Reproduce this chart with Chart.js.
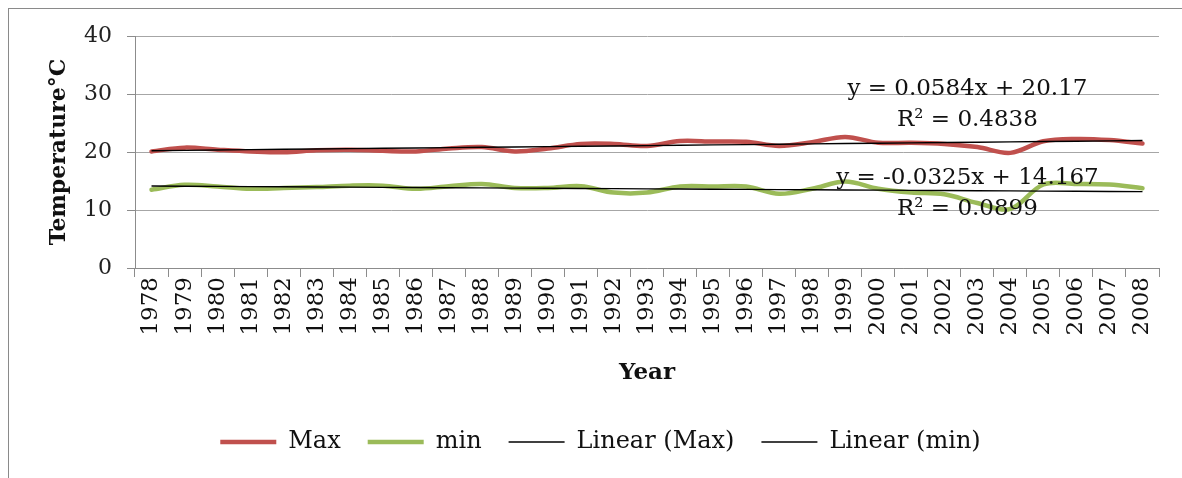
<!DOCTYPE html>
<html>
<head>
<meta charset="utf-8">
<script src="https://cdn.jsdelivr.net/npm/chart.js@4/dist/chart.umd.min.js"></script>
<style>
  html, body { margin: 0; padding: 0; background: #ffffff; }
  #wrap { width: 1182px; height: 478px; position: relative; }
</style>
</head>
<body>
<div id="wrap"><canvas id="chart" width="1182" height="478"></canvas></div>
<script>
// Yearly mean maximum and minimum temperature (°C), 1978–2008
const years = ['1978','1979','1980','1981','1982','1983','1984','1985','1986','1987',
               '1988','1989','1990','1991','1992','1993','1994','1995','1996','1997',
               '1998','1999','2000','2001','2002','2003','2004','2005','2006','2007','2008'];

const maxTemp = [20.1, 20.75, 20.4, 20.1, 19.95, 20.3, 20.4, 20.2, 20.1, 20.6,
                 20.85, 20.1, 20.6, 21.4, 21.4, 21.05, 21.9, 21.8, 21.75, 21.05,
                 21.7, 22.6, 21.6, 21.6, 21.4, 20.85, 19.85, 21.85, 22.25, 22.05, 21.45];

const minTemp = [13.5, 14.35, 14.05, 13.65, 13.8, 13.95, 14.2, 14.2, 13.65, 14.1,
                 14.5, 13.8, 13.8, 14.1, 13.0, 13.0, 14.05, 14.05, 14.05, 12.8,
                 13.65, 14.9, 13.65, 13.0, 12.7, 11.2, 10.2, 14.4, 14.5, 14.4, 13.75];

// Linear trend fits: [slope, intercept, R²], x = 1 for the first year
const maxFit = [0.0584, 20.17, 0.4838];
const minFit = [-0.0325, 14.167, 0.0899];

// Value axis ticks
const yTicks = [0, 10, 20, 30, 40];

const trendOf = fit => years.map((_, i) => fit[0] * (i + 1) + fit[1]);
const eqText = fit => 'y = ' + fit[0] + 'x + ' + fit[1];
const r2Text = fit => 'R\u00B2 = ' + fit[2];

const SERIF = "'DejaVu Serif', 'Liberation Serif', serif";
const AXIS_GREY = '#8c8c8c';
const GRID_GREY = '#a6a6a6';

// Outer frame of the chart
const framePlugin = {
  id: 'frame',
  beforeDraw(chart) {
    const ctx = chart.ctx;
    ctx.save();
    ctx.fillStyle = '#ffffff';
    ctx.fillRect(0, 0, chart.width, chart.height);
    ctx.strokeStyle = '#8a8a8a';
    ctx.lineWidth = 1;
    ctx.strokeRect(8.5, 8.5, chart.width + 40, chart.height + 40);
    ctx.restore();
  }
};

// Nudge the legend row a little to the right of the centre
const legendShiftPlugin = {
  id: 'legendShift',
  afterLayout(chart) {
    const lg = chart.legend;
    if (lg) { lg.left += 21; lg.right += 21; }
  }
};

// Trendline equations placed in data coordinates
const equationPlugin = {
  id: 'equations',
  afterDatasetsDraw(chart) {
    const ctx = chart.ctx;
    const xs = chart.scales.x, ys = chart.scales.y;
    const cx = xs.getPixelForValue(24.7);
    const items = [
      [eqText(maxFit), 30.85],
      [r2Text(maxFit), 25.45],
      [eqText(minFit), 15.45],
      [r2Text(minFit), 10.1]
    ];
    ctx.save();
    ctx.font = '23px ' + SERIF;
    ctx.fillStyle = '#111111';
    ctx.textAlign = 'center';
    ctx.textBaseline = 'middle';
    items.forEach(([txt, v]) => ctx.fillText(txt, cx, ys.getPixelForValue(v)));
    ctx.restore();
  }
};

new Chart(document.getElementById('chart'), {
  type: 'line',
  data: {
    labels: years,
    datasets: [
      { label: 'Max', data: maxTemp, borderColor: '#C0504D', backgroundColor: '#C0504D',
        borderWidth: 4.5, tension: 0.35, pointRadius: 0, order: 2, borderCapStyle: 'round' },
      { label: 'min', data: minTemp, borderColor: '#9BBB59', backgroundColor: '#9BBB59',
        borderWidth: 4.5, tension: 0.35, pointRadius: 0, order: 2, borderCapStyle: 'round' },
      { label: 'Linear (Max)', data: trendOf(maxFit), borderColor: '#000000', backgroundColor: '#000000',
        borderWidth: 1.4, tension: 0, pointRadius: 0, order: 1 },
      { label: 'Linear (min)', data: trendOf(minFit), borderColor: '#000000', backgroundColor: '#000000',
        borderWidth: 1.4, tension: 0, pointRadius: 0, order: 1 }
    ]
  },
  options: {
    responsive: false,
    animation: false,
    devicePixelRatio: 1,
    layout: { padding: { left: 0, right: 23, top: 36, bottom: 14 } },
    plugins: {
      tooltip: { enabled: false },
      legend: {
        position: 'bottom',
        labels: {
          font: { family: SERIF, size: 24 },
          color: '#111111',
          usePointStyle: true,
          pointStyle: 'line',
          pointStyleWidth: 56,
          padding: 27,
          sort: (a, b) => a.datasetIndex - b.datasetIndex
        }
      }
    },
    scales: {
      x: {
        type: 'category',
        offset: true,
        afterFit: s => { s.height = 135; },
        grid: { display: true, drawOnChartArea: false, offset: true, tickLength: 9, color: AXIS_GREY },
        border: { display: true, color: AXIS_GREY },
        ticks: { font: { family: SERIF, size: 23 }, color: '#111111', maxRotation: 90, minRotation: 90, padding: 0, autoSkip: false },
        title: { display: true, text: 'Year', color: '#111111',
                 font: { family: SERIF, size: 23, weight: 'bold' }, padding: { top: 0, bottom: 16 } }
      },
      y: {
        min: yTicks[0],
        max: yTicks[yTicks.length - 1],
        afterFit: s => { s.width = 135; },
        afterBuildTicks: s => { s.ticks = yTicks.map(v => ({ value: v })); },
        grid: { color: GRID_GREY, tickLength: 8, tickColor: AXIS_GREY },
        border: { display: true, color: AXIS_GREY },
        ticks: { font: { family: SERIF, size: 22 }, color: '#222222', padding: 15 },
        title: { display: true, text: 'Temperature°C', color: '#111111',
                 font: { family: SERIF, size: 22, weight: 'bold' }, padding: { top: 46, bottom: 0 } }
      }
    }
  },
  plugins: [framePlugin, legendShiftPlugin, equationPlugin]
});
</script>
</body>
</html>
